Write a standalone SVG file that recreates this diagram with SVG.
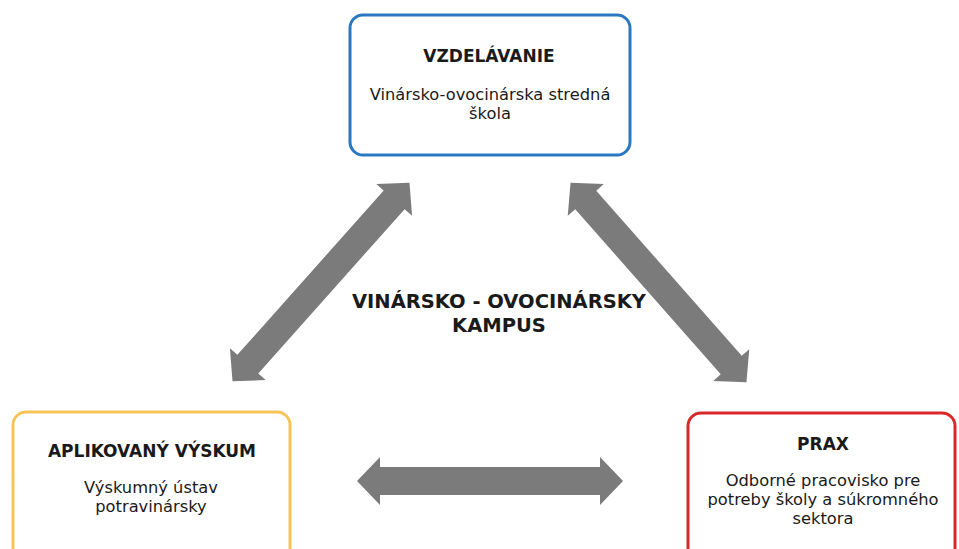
<svg xmlns="http://www.w3.org/2000/svg" width="959" height="549" viewBox="0 0 959 549">
<style>
.box{fill:#ffffff;stroke-width:3}
.t{font-family:"DejaVu Sans","Verdana",sans-serif;font-weight:bold;font-size:17px;fill:#1a1a1a;text-anchor:middle}
.s{font-family:"DejaVu Sans","Verdana",sans-serif;font-size:16.3px;fill:#1a1a1a;text-anchor:middle}
.c{font-family:"DejaVu Sans","Verdana",sans-serif;font-weight:bold;font-size:19.5px;fill:#1a1a1a;text-anchor:middle}
.arrow{fill:#7b7b7b}
</style>
<defs>
<path id="dbl" d="M-133,0 L-110,-24 L-110,-14 L110,-14 L110,-24 L133,0 L110,24 L110,14 L-110,14 L-110,24 Z"/>
</defs>
<rect width="959" height="549" fill="#ffffff"/>
<g id="connectors" class="arrow">
<use href="#dbl" transform="translate(321,282) rotate(-48.3)"/>
<use href="#dbl" transform="translate(658.5,282.5) rotate(48.6)"/>
<use href="#dbl" transform="translate(490,481)"/>
</g>
<g id="kampus">
<text class="c" x="499" y="308">VINÁRSKO - OVOCINÁRSKY</text>
<text class="c" x="499" y="332">KAMPUS</text>
</g>
<g id="vzdelavanie">
<rect class="box" x="350" y="15" width="280" height="140" rx="13" stroke="#2a78c2"/>
<text class="t" x="489" y="62">VZDELÁVANIE</text>
<text class="s" x="490" y="100">Vinársko-ovocinárska stredná</text>
<text class="s" x="490" y="119">škola</text>
</g>
<g id="vyskum">
<rect class="box" x="13" y="412" width="277" height="160" rx="13" stroke="#f7c45a"/>
<text class="t" x="152" y="457">APLIKOVANÝ VÝSKUM</text>
<text class="s" x="151" y="493">Výskumný ústav</text>
<text class="s" x="151" y="512">potravinársky</text>
</g>
<g id="prax">
<rect class="box" x="688" y="413" width="267" height="160" rx="13" stroke="#d8282a"/>
<text class="t" x="823" y="450">PRAX</text>
<text class="s" x="823" y="486">Odborné pracovisko pre</text>
<text class="s" x="823" y="505">potreby školy a súkromného</text>
<text class="s" x="823" y="524">sektora</text>
</g>
</svg>
